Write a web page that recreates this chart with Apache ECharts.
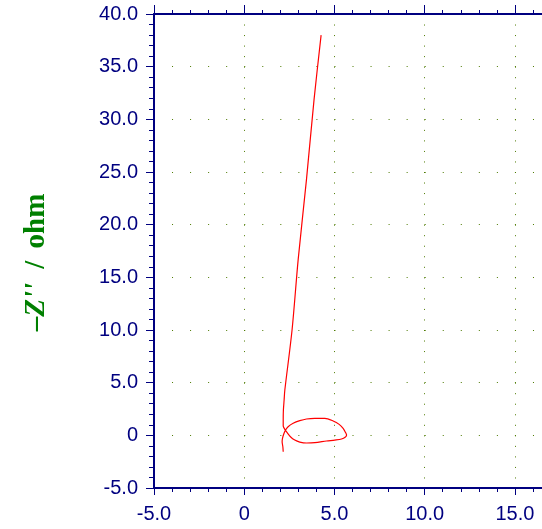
<!DOCTYPE html>
<html><head><meta charset="utf-8">
<script src="https://cdn.jsdelivr.net/npm/echarts@6/dist/echarts.min.js"></script>
<style>html,body{margin:0;padding:0;background:#fff;overflow:hidden}#c{width:542px;height:529px}</style>
</head><body><div id="c"></div>
<script>
// Z' (real part, ohm) and -Z'' (imaginary part, ohm), in measurement order
const zReal = [4.26, 3.87, 3.45, 2.99, 2.65, 2.25, 2.21, 2.17, 2.16, 2.16, 2.25, 2.38, 2.56, 2.80, 3.08, 3.45, 3.91, 4.56, 5.02, 5.39, 5.59, 5.67, 5.61, 5.48, 5.26, 4.93, 4.47, 3.91, 3.45, 3.08, 2.71, 2.43, 2.29, 2.19, 2.12, 2.10, 2.14, 2.16];
const zImag = [38.0, 31.9, 24.3, 16.7, 10.0, 4.30, 3.35, 2.40, 1.45, 0.88, 0.57, 0.25, -0.13, -0.45, -0.64, -0.73, -0.70, -0.54, -0.45, -0.35, -0.19, 0.03, 0.28, 0.66, 1.04, 1.36, 1.61, 1.61, 1.55, 1.39, 1.14, 0.82, 0.50, 0.12, -0.29, -0.60, -1.08, -1.55];
const xRange = [-5, 16.5];
const yRange = [-5, 40];
const tickStep = 5;
const yAxisTitle = ["\u2013", "Z''", " / ", "ohm"];

const fmt = v => {
  const r = Math.abs(v % tickStep);
  if (r > 1e-9 && Math.abs(r - tickStep) > 1e-9) return '';
  return v === 0 ? '0' : v.toFixed(1);
};

const gridLeft = 154, gridTop = 14, gridW = 388, gridH = 474;
const unitX = gridW / (xRange[1] - xRange[0]);
const unitY = gridH / (yRange[1] - yRange[0]);
const navy = '#000080';
const dotColor = '#4d7a00';
const labelFont = { color: navy, fontSize: 20, fontFamily: 'Liberation Sans, Arial, sans-serif' };
const titleFont = { color: '#008000', fontSize: 29, fontWeight: 'bold', fontFamily: 'Liberation Serif, Times New Roman, serif' };

const chart = echarts.init(document.getElementById('c'), null, { renderer: 'canvas' });
chart.setOption({
  animation: false,
  backgroundColor: '#ffffff',
  grid: { left: gridLeft, top: gridTop, width: gridW, height: gridH, containLabel: false },
  xAxis: [{
    type: 'value', position: 'bottom', min: xRange[0], max: xRange[1], interval: tickStep,
    axisLine: { onZero: false, lineStyle: { color: navy, width: 2 } },
    axisTick: { inside: false, length: 7, lineStyle: { color: navy, width: 1 } },
    minorTick: { show: true, splitNumber: 5, length: 4, lineStyle: { color: navy, width: 1 } },
    axisLabel: Object.assign({ margin: 16, formatter: fmt, showMaxLabel: false }, labelFont),
    splitLine: { show: true, lineStyle: { color: dotColor, width: 1, type: [1, unitY - 1], dashOffset: 0 } }
  }, {
    type: 'value', position: 'top', min: xRange[0], max: xRange[1], interval: tickStep,
    axisLine: { onZero: false, lineStyle: { color: navy, width: 2 } },
    axisTick: { inside: false, length: 9, lineStyle: { color: navy, width: 1 } },
    minorTick: { show: true, splitNumber: 5, length: 4, lineStyle: { color: navy, width: 1 } },
    axisLabel: { show: false },
    splitLine: { show: false }
  }],
  yAxis: [{
    type: 'value', position: 'left', min: yRange[0], max: yRange[1], interval: tickStep,
    axisLine: { onZero: false, lineStyle: { color: navy, width: 2 } },
    axisTick: { inside: false, length: 8, lineStyle: { color: navy, width: 1 } },
    minorTick: { show: true, splitNumber: 5, length: 5, lineStyle: { color: navy, width: 1 } },
    axisLabel: Object.assign({ margin: 16, formatter: fmt }, labelFont),
    splitLine: { show: true, lineStyle: { color: dotColor, width: 1, type: [1, unitX - 1], dashOffset: 0 } },
    name: '{a|' + yAxisTitle[0] + '}{b|' + yAxisTitle[1] + '}{c|' + yAxisTitle[2] + '}{a|' + yAxisTitle[3] + '}',
    nameLocation: 'middle', nameGap: 103, nameRotate: 90,
    nameTextStyle: {
      padding: [0, 23, 0, 0],
      rich: {
        a: Object.assign({}, titleFont),
        b: Object.assign({ fontStyle: 'italic', padding: [0, 2, 0, 0] }, titleFont),
        c: Object.assign({ padding: [0, 5, 0, 5] }, titleFont)
      }
    }
  }],
  series: [{
    type: 'line', xAxisIndex: 0, yAxisIndex: 0,
    data: zReal.map((x, i) => [x, zImag[i]]),
    showSymbol: false, symbol: 'none', smooth: 0.3,
    lineStyle: { color: '#ff0000', width: 1.2 },
    clip: true
  }]
});
</script>
</body></html>
